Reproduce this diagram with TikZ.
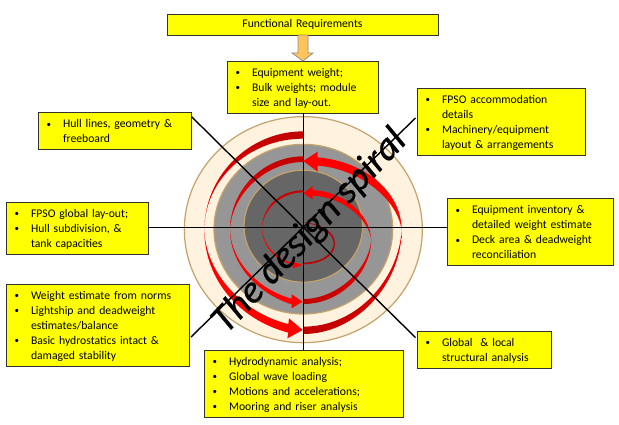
\documentclass[tikz,border=0pt]{standalone}
\usepackage{fontspec}
\setmainfont{Carlito}
\newfontface\spiralface{Carlito Italic}[FakeBold=0.6]
\usetikzlibrary{calc}
\definecolor{dkred}{HTML}{C00000}
\definecolor{brred}{HTML}{FF0000}
\definecolor{ringtan}{HTML}{C4A26A}
\definecolor{boxyellow}{HTML}{FFFF00}
\definecolor{ringouter}{HTML}{FFF2DF}
\definecolor{ringmid}{HTML}{969696}
\definecolor{ringinner}{HTML}{666666}
\definecolor{arrowfill}{HTML}{FFC55A}
\newcommand{\bitem}[1]{\par\noindent\makebox[8.5pt][l]{}\makebox[16.5pt][l]{\raisebox{0.6pt}{\fontsize{9pt}{9pt}\selectfont\textbullet}}#1}
\newcommand{\contline}[1]{\par\noindent\hspace*{25pt}#1}
\tikzset{
  ybox/.style={draw=black!80,line width=0.9pt,fill=boxyellow,inner xsep=0pt,inner ysep=0pt,anchor=center,
    font=\fontsize{11.7pt}{15pt}\selectfont,align=left},
  bulletbox/.style={ybox,execute at end node={\par\vspace{5pt}}},
  spoke/.style={draw=black,line width=1.4pt},
  ringa/.style={fill=#1,draw=ringtan,line width=1.2pt},
  blockarrow/.style={fill=arrowfill,draw=black!45,line width=0.7pt},
  upperleft/.style={top color=dkred,bottom color=brred,shading angle=0},
  lowerright/.style={top color=brred,bottom color=dkred},
  spiraltext/.style={font=\fontsize{39pt}{39pt}\spiralface,rotate=46.7,inner sep=0pt}
}
\begin{document}
\begin{tikzpicture}[x=1pt,y=-1pt]
\path[use as bounding box,fill=white] (0,0) rectangle (619,424);
\begin{scope}[shift={(170,100)},x=0.33333pt,y=-0.33333pt]
  \draw[ringa=ringouter] (400,389) ellipse [x radius=357,y radius=339];
  \draw[ringa=ringmid] (400,387.5) ellipse [x radius=268,y radius=254.5];
  \draw[ringa=ringinner] (400,378.5) ellipse [x radius=178,y radius=168];
  % outer turn
  \shade[upperleft] (400,94) .. controls (237,94) and (103,227) .. (103,390) .. controls (103,239) and (237,116) .. (400,116) -- cycle;
  \fill[brred] (103,390) .. controls (103,540) and (210,660) .. (355,698) -- (352,715) -- (398,690) -- (357,655) -- (355,672) .. controls (220,640) and (107,520) .. (103,390) -- cycle;
  \shade[lowerright] (400,702) .. controls (560,702) and (695,550) .. (695,390) .. controls (685,540) and (560,680) .. (400,680) -- cycle;
  \fill[brred] (695,390) .. controls (695,280) and (590,185) .. (443,172) -- (443,155) -- (400,183) -- (443,215) -- (443,197) .. controls (560,205) and (680,290) .. (695,390) -- cycle;
  % second turn
  \shade[upperleft] (400,169) .. controls (280,169) and (180,270) .. (180,390) .. controls (185,280) and (290,186) .. (400,186) -- cycle;
  \fill[brred] (180,390) .. controls (180,490) and (260,580) .. (365,613) -- (365,625) -- (398,605) -- (365,583) -- (365,596) .. controls (270,570) and (185,490) .. (180,390) -- cycle;
  \shade[lowerright] (400,612) .. controls (510,612) and (602,520) .. (604,420) .. controls (595,510) and (500,597) .. (400,597) -- cycle;
  \fill[brred] (604,420) .. controls (600,340) and (520,275) .. (428,270) -- (428,258) -- (400,280) -- (428,298) -- (428,287) .. controls (510,290) and (595,350) .. (604,420) -- cycle;
  % inner turn
  \shade[upperleft] (400,271) .. controls (330,271) and (276,320) .. (276,385) .. controls (280,325) and (335,277) .. (400,277) -- cycle;
  \fill[brred] (276,385) .. controls (276,440) and (320,485) .. (368,493) -- (368,505) -- (398,495) -- (368,485) -- (368,489) .. controls (325,480) and (280,440) .. (276,385) -- cycle;
  \fill[dkred] (398,493) .. controls (450,493) and (495,470) .. (495,430) .. controls (495,395) and (450,368) .. (400,368) .. controls (450,373) and (490,400) .. (491,430) .. controls (490,465) and (450,488) .. (398,488) -- cycle;
\end{scope}

\coordinate (hub) at (303.3,227.3);

\node[ybox,text width=271pt,minimum height=21pt,align=center] (func) at (302.5,24.5) {Functional Requirements};
\node[bulletbox,text width=151pt,minimum height=52pt] (equip) at (302.5,87) {\bitem{Equipment weight;}\bitem{Bulk weights; module}\contline{size and lay-out.}};
\node[bulletbox,text width=153pt,minimum height=37pt] (hull) at (114.5,130.5) {\bitem{Hull lines, geometry \&}\contline{freeboard}};
\node[bulletbox,text width=168pt,minimum height=66pt] (accom) at (501,122) {\bitem{FPSO accommodation}\contline{details}\bitem{Machinery/equipment}\contline{layout \& arrangements}};
\node[bulletbox,text width=142pt,minimum height=49pt] (global) at (77,228.5) {\bitem{FPSO global lay-out;}\bitem{Hull subdivision, \&}\contline{tank capacities}};
\node[bulletbox,text width=166pt,minimum height=67pt] (invent) at (530,231.5) {\bitem{Equipment inventory \&}\contline{detailed weight estimate}\bitem{Deck area \& deadweight}\contline{reconciliation}};
\node[bulletbox,text width=183pt,minimum height=81pt] (norms) at (97.5,325.5) {\bitem{Weight estimate from norms}\bitem{Lightship and deadweight}\contline{estimates/balance}\bitem{Basic hydrostatics intact \&}\contline{damaged stability}};
\node[bulletbox,text width=134pt,minimum height=37pt] (struct) at (484,349.5) {\bitem{Global \ \& local}\contline{structural analysis}};
\node[bulletbox,text width=199pt,minimum height=66pt] (hydro) at (303.5,384) {\bitem{Hydrodynamic analysis;}\bitem{Global wave loading}\bitem{Motions and accelerations;}\bitem{Mooring and riser analysis}};

\draw[spoke] (hub) -- (hub |- equip.south);
\draw[spoke] (hub) -- (hub |- hydro.north);
\draw[spoke] (hub) -- (global.east |- hub);
\draw[spoke] (hub) -- (invent.west |- hub);
\draw[spoke] (hub) -- ($(hull.north east)+(0,5)$);
\draw[spoke] (hub) -- ($(accom.south west)+(-1,-38)$);
\draw[spoke] (hub) -- ($(norms.north east)+(1.5,53)$);
\draw[spoke] (hub) -- ($(struct.north west)+(-1,7)$);

\draw[blockarrow] (298,35) -- (308,35) -- (308,53) -- (313,53) -- (303,61) -- (292,53) -- (298,53) -- cycle;

\node[spiraltext] (title) at ($(hub)+(6.5,4)$) {The design spiral};
\end{tikzpicture}
\end{document}
